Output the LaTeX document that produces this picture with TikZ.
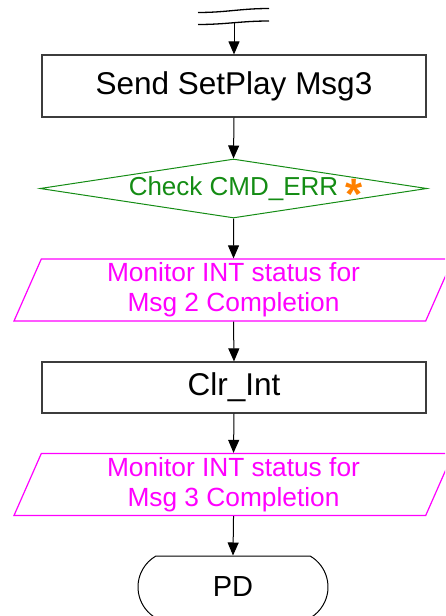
\documentclass[tikz,border=0pt]{standalone}
\usepackage{fontspec}
\setmainfont{Liberation Sans}
\usetikzlibrary{shapes.geometric, shapes.misc, arrows.meta}
\definecolor{boxgray}{RGB}{60,60,60}
\definecolor{chkgreen}{RGB}{20,140,20}
\definecolor{monmag}{RGB}{255,0,255}
\definecolor{staror}{RGB}{255,128,0}

\begin{document}
\begin{tikzpicture}[x=1pt, y=-1pt, >={Triangle[width=11pt,length=13pt]}, line width=1pt,
          process/.style={draw=boxgray, line width=1.2pt, rectangle, minimum width=384pt, inner sep=0pt, font=\fontsize{31.5}{36}\selectfont},
          decision/.style={draw=chkgreen, diamond, minimum width=387pt, minimum height=59pt, inner sep=0pt, text=chkgreen, font=\fontsize{26}{30}\selectfont},
          ioput/.style={draw=monmag, line width=1.2pt, trapezium, trapezium left angle=63.4, trapezium right angle=116.6, trapezium stretches body, minimum width=439pt, minimum height=62pt, inner sep=0pt, text=monmag, align=center, font=\fontsize{26.3}{30}\selectfont},
          termin/.style={draw=black, rounded rectangle, rounded rectangle arc length=120, minimum width=190pt, minimum height=62pt, inner sep=0pt, font=\fontsize{29}{34}\selectfont}
        ]
        \clip (0,0) rectangle (445,616);
        % break in the flow
        \draw[line width=1.3pt] (198,12.5) .. controls (226,12.5) and (241,8.5) .. (269,8.5);
        \draw[line width=1.3pt] (198,24.5) .. controls (226,24.5) and (241,21) .. (269,21);
        \coordinate (brk) at (234,22.5);
        
        \node[process, minimum height=62pt] (send) at (234,86) {Send SetPlay Msg3};
        \node[decision] (chk) at (233.5,188.5) {\makebox[0pt]{Check CMD\_ERR\rlap{ \smash{\textcolor{staror}{\raisebox{-14.5pt}{\fontsize{44}{44}\selectfont\bfseries *}}}}}};
        \node[ioput] (mon2) at (233.5,290) {Monitor INT status for\\Msg 2 Completion};
        \node[process, minimum height=51pt] (clr) at (234,387.5) {Clr\_Int};
        \node[ioput] (mon3) at (233.5,484.5) {Monitor INT status for\\Msg 3 Completion};
        \node[termin] (pd) at (233,587) {PD};
        
        \draw[->] (brk) -- (send.north);
        \draw[->] (send.south) -- (chk.north);
        \draw[->] (chk.south) -- (mon2.north);
        \draw[->] (mon2.south) -- (clr.north);
        \draw[->] (clr.south) -- (mon3.north);
        \draw[->] (mon3.south) -- (pd.north);
      \end{tikzpicture}
\end{document}
